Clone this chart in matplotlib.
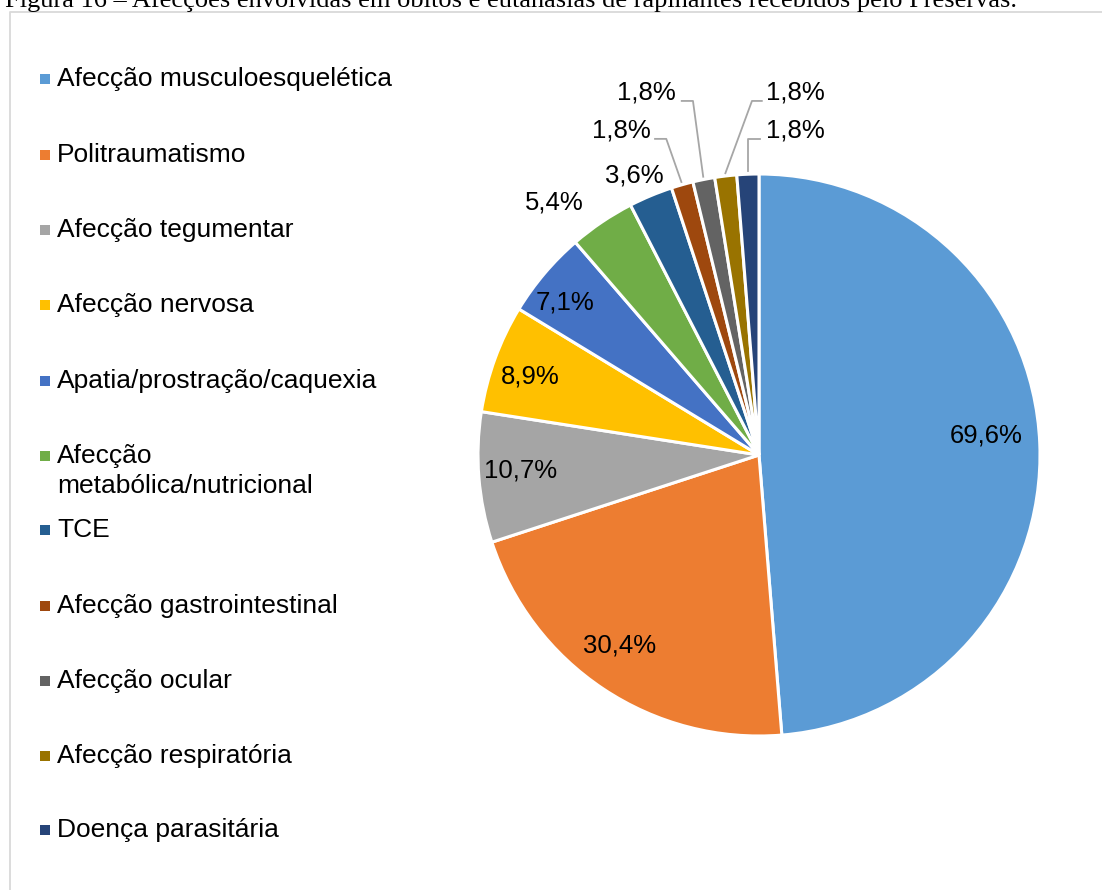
import matplotlib
matplotlib.use("Agg")
import matplotlib.pyplot as plt
import numpy as np

categories = ["Afecção musculoesquelética", "Politraumatismo", "Afecção tegumentar",
              "Afecção nervosa", "Apatia/prostração/caquexia",
              "Afecção\nmetabólica/nutricional", "TCE", "Afecção gastrointestinal",
              "Afecção ocular", "Afecção respiratória", "Doença parasitária"]
values = [69.6, 30.4, 10.7, 8.9, 7.1, 5.4, 3.6, 1.8, 1.8, 1.8, 1.8]
value_labels = ["69,6%", "30,4%", "10,7%", "8,9%", "7,1%", "5,4%", "3,6%",
                "1,8%", "1,8%", "1,8%", "1,8%"]
colors = ["#5B9BD5", "#ED7D31", "#A5A5A5", "#FFC000", "#4472C4", "#70AD47",
          "#255E91", "#9E480E", "#636363", "#997300", "#264478"]
title = "Figura 16 – Afecções envolvidas em óbitos e eutanásias de rapinantes recebidos pelo Preservas."

W, H = 1102, 890
fig = plt.figure(figsize=(W / 100, H / 100), dpi=100)
ax = fig.add_axes([0, 0, 1, 1])

cx, cy, R = 759, H - 455, 281
wedges, _ = ax.pie(values, colors=colors, startangle=90, counterclock=False,
                   center=(cx, cy), radius=R, frame=True,
                   wedgeprops=dict(edgecolor="white", linewidth=2.2))
ax.set_xlim(0, W)
ax.set_ylim(0, H)
ax.set_aspect("equal")
ax.axis("off")

# frame of chart area
ax.plot([10, 10, W + 5], [-5, H - 11.5, H - 11.5], color="#D9D9D9", lw=1.3, zorder=1)

# title (partly cut at top, as in the reference)
fig.text(5 / W, 1 - 7 / H, title, family="Liberation Serif", fontsize=19,
         ha="left", va="baseline", color="black")

lab_font = dict(family="Liberation Sans", fontsize=18.5, color="black")

# inside labels: (index, radial fraction, angle shift deg)
inside = {0: (0.81, 2.6), 1: (0.84, -2.5), 2: (0.85, -0.8), 3: (0.86, 1.2),
          4: (0.88, 2.1)}
for i, (fr, dth) in inside.items():
    w = wedges[i]
    th = np.deg2rad((w.theta1 + w.theta2) / 2 + dth)
    ax.text(cx + fr * R * np.cos(th), cy + fr * R * np.sin(th), value_labels[i],
            ha="center", va="center", **lab_font)

# outside labels: index -> (label offset x, y in R units)
outside = {5: (-0.73, 0.90), 6: (-0.445, 0.995),
           7: (-0.49, 1.155), 8: (-0.40, 1.29),
           9: (0.13, 1.29), 10: (0.13, 1.155)}
for i, (ox, oy) in outside.items():
    ax.text(cx + ox * R, cy + oy * R, value_labels[i], ha="center", va="center", **lab_font)

# leader lines for the four smallest slices
leaders = {7: [(-0.37, 1.125), (-0.33, 1.125)], 8: [(-0.275, 1.26), (-0.235, 1.26)],
           9: [(0.01, 1.26), (-0.025, 1.26)], 10: [(0.005, 1.125), (-0.04, 1.125)]}
for i, pts in leaders.items():
    w = wedges[i]
    th = np.deg2rad((w.theta1 + w.theta2) / 2)
    xs = [cx + p[0] * R for p in pts] + [cx + 1.01 * R * np.cos(th)]
    ys = [cy + p[1] * R for p in pts] + [cy + 1.01 * R * np.sin(th)]
    if i == 10:
        xs[-1] = xs[1]
    ax.plot(xs, ys, color="#A6A6A6", lw=1.3, zorder=3)

# legend
leg_font = dict(family="Liberation Sans", fontsize=19, color="black")
leg_y = [79, 155, 230, 305, 381, 456, 530, 606, 681, 756, 830]
for y, name, c in zip(leg_y, categories, colors):
    ax.scatter([45], [H - y], marker="s", s=42, color=c, zorder=4, linewidths=0)
    for k, line in enumerate(name.split("\n")):
        ax.text(57, H - y - 30 * k, line, ha="left", va="center", **leg_font)

fig.savefig("out.png", dpi=100, facecolor="white")
